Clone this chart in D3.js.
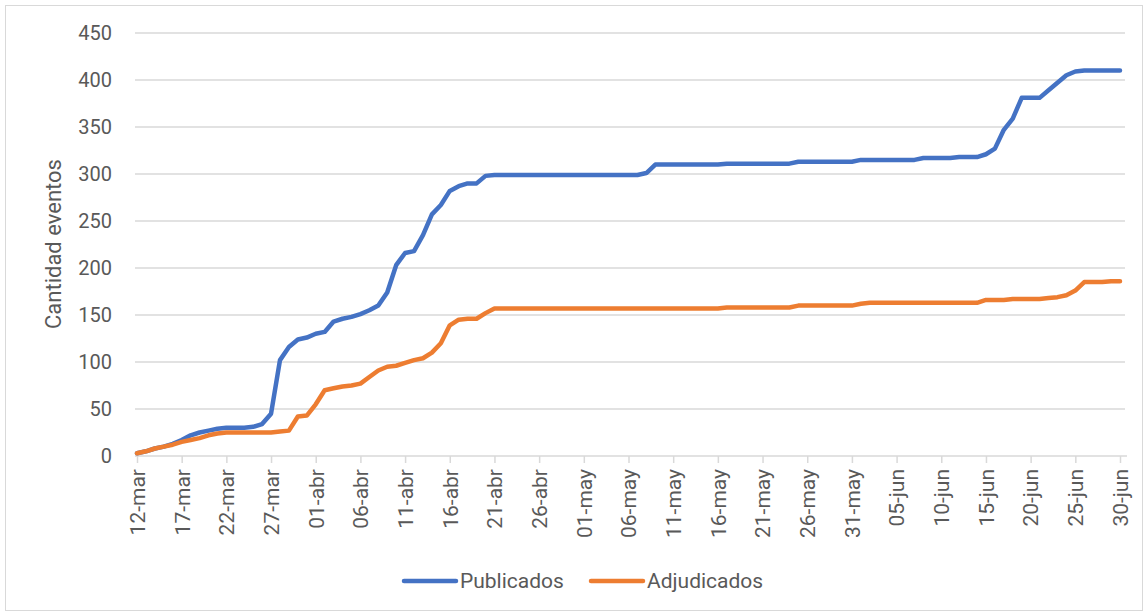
<!DOCTYPE html>
<html>
<head>
<meta charset="utf-8">
<script src="https://cdn.jsdelivr.net/npm/d3@7"></script>
<style>
  body { margin: 0; background: #fff; }
  text { font-family: Roboto, "Liberation Sans", sans-serif; fill: #595959; }
</style>
</head>
<body>
<div id="chart"></div>
<script>

// tick labels, one every 5 days starting 12-mar
var tickLabels = ["12-mar","17-mar","22-mar","27-mar","01-abr","06-abr","11-abr","16-abr","21-abr",
  "26-abr","01-may","06-may","11-may","16-may","21-may","26-may","31-may","05-jun","10-jun",
  "15-jun","20-jun","25-jun","30-jun"];

var yTicks = [0,50,100,150,200,250,300,350,400,450];

// daily cumulative values, 12-mar .. 30-jun
var publicados = [3,5,8,10,13,17,22,25,27,29,30,30,30,31,34,
  45,102,116,124,126,130,132,143,146,148,151,155,160,174,203,216,218,235,257,267,282,287,290,290,298,299,
  299,299,299,299,299,299,299,299,299,299,299,299,299,299,299,299,
  301,310,
  310,310,310,310,310,310,310,
  311,311,311,311,311,311,311,311,
  313,313,313,313,313,313,313,
  315,315,315,315,315,315,315,
  317,317,317,317,
  318,318,318,
  321,327,347,359,381,381,381,389,397,405,409,
  410,410,410,410,410];

var adjudicados = [3,5,8,10,12,15,17,19,22,24,25,25,25,25,25,
  25,26,27,42,43,55,70,72,74,75,77,84,91,95,96,99,102,104,110,120,139,145,146,146,152,157,
  157,157,157,157,157,157,157,157,157,157,157,157,157,157,157,157,157,157,157,157,157,157,157,157,157,
  158,158,158,158,158,158,158,158,
  160,160,160,160,160,160,160,
  162,
  163,163,163,163,163,163,163,163,163,163,163,163,163,
  166,166,166,167,167,167,167,
  168,169,171,176,185,185,185,186,186];

var seriesNames = ["Publicados","Adjudicados"];
var colors = ["#4472C4","#ED7D31"];

var margin = {top: 33, left: 137},
    width = 983,
    height = 423;

var svg = d3.select("#chart")
  .append("svg")
    .attr("width", 1148)
    .attr("height", 616);

// chart border
svg.append("rect")
  .attr("x", 5.5).attr("y", 5.5)
  .attr("width", 1137).attr("height", 605)
  .attr("fill", "none")
  .attr("stroke", "#d9d9d9")
  .attr("stroke-width", 1);

var g = svg.append("g")
  .attr("transform", "translate(" + margin.left + "," + margin.top + ")");

var days = d3.range(publicados.length);

var x = d3.scaleLinear()
  .domain([0, days.length - 1])
  .range([0, width]);

var y = d3.scaleLinear()
  .domain([0, 450])
  .range([height, 0]);

// gridlines
g.append("g")
  .selectAll("line")
  .data(yTicks.slice(1))
  .enter()
  .append("line")
    .attr("x1", -2)
    .attr("x2", width + 5)
    .attr("y1", function(d) { return y(d); })
    .attr("y2", function(d) { return y(d); })
    .attr("stroke", "#d9d9d9")
    .attr("stroke-width", 1.5);

// y axis (labels only)
var yAxis = g.append("g")
  .call(d3.axisLeft(y).tickValues(yTicks).tickSize(0).tickPadding(25));
yAxis.select(".domain").remove();
yAxis.selectAll("text")
  .style("font-size", "20px")
  .attr("fill", "#595959");

// x axis
var xAxis = g.append("g")
  .attr("transform", "translate(0," + height + ")")
  .call(d3.axisBottom(x)
    .tickValues(d3.range(0, days.length, 5))
    .tickFormat(function(d, i) { return tickLabels[i]; })
    .tickSize(7)
    .tickSizeOuter(0));
xAxis.select(".domain")
  .attr("stroke", "#d9d9d9")
  .attr("stroke-width", 1.5)
  .attr("d", "M-2,0H" + (width + 7));
xAxis.selectAll(".tick line")
  .attr("stroke", "#d9d9d9")
  .attr("stroke-width", 1.5);
xAxis.selectAll("text")
  .style("font-size", "21px")
  .attr("fill", "#595959")
  .attr("text-anchor", "end")
  .attr("transform", "rotate(-90)")
  .attr("x", -13)
  .attr("y", 0)
  .attr("dy", "0.35em");

// y title
svg.append("text")
  .attr("transform", "translate(61,244) rotate(-90)")
  .attr("text-anchor", "middle")
  .style("font-size", "22px")
  .text("Cantidad eventos");

// lines
var line = d3.line()
  .x(function(d, i) { return x(i); })
  .y(function(d) { return y(d); });

[publicados, adjudicados].forEach(function(s, k) {
  g.append("path")
    .datum(s)
    .attr("fill", "none")
    .attr("stroke", colors[k])
    .attr("stroke-width", 4.5)
    .attr("stroke-linejoin", "round")
    .attr("stroke-linecap", "round")
    .attr("d", line);
});

// legend
var legendX = [404, 591];
seriesNames.forEach(function(name, k) {
  svg.append("line")
    .attr("x1", legendX[k]).attr("x2", legendX[k] + 52)
    .attr("y1", 581).attr("y2", 581)
    .attr("stroke", colors[k])
    .attr("stroke-width", 4.5)
    .attr("stroke-linecap", "round");
  svg.append("text")
    .attr("x", legendX[k] + 56)
    .attr("y", 588)
    .style("font-size", "21px")
    .text(name);
});

</script>
</body>
</html>
